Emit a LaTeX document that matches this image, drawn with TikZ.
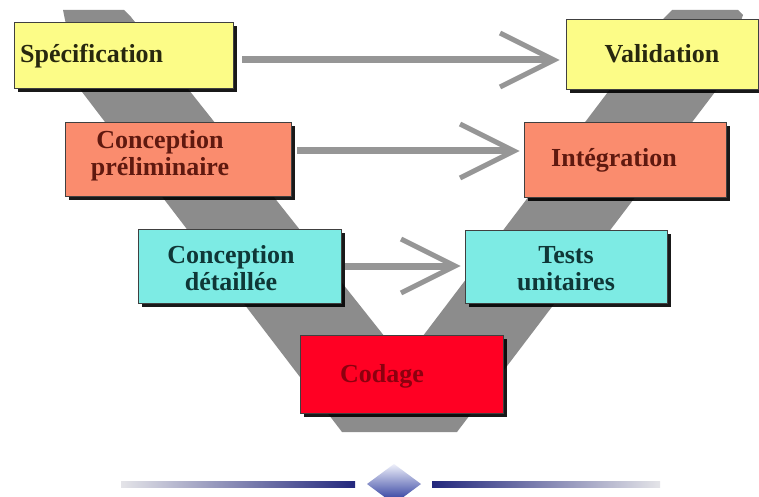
\documentclass[tikz,border=0pt]{standalone}
\usepackage{fontspec}
\setmainfont{Liberation Serif}
\usetikzlibrary{arrows.meta,shadows}
\definecolor{vgray}{RGB}{140,140,140}
\definecolor{agray}{RGB}{150,150,150}
\definecolor{cyell}{RGB}{252,252,135}
\definecolor{csalm}{RGB}{250,140,110}
\definecolor{ccyan}{RGB}{125,235,228}
\definecolor{cred}{RGB}{255,0,35}
\definecolor{tyell}{RGB}{40,40,15}
\definecolor{tsalm}{RGB}{95,25,15}
\definecolor{tcyan}{RGB}{15,55,55}
\definecolor{tred}{RGB}{140,0,15}
\definecolor{navy}{RGB}{35,40,125}
\definecolor{lgray}{RGB}{228,228,232}
\definecolor{dlight}{RGB}{238,240,250}
\definecolor{dmid}{RGB}{95,110,190}
\definecolor{dblue}{RGB}{30,45,150}
\begin{document}
\begin{tikzpicture}[x=1pt,y=-1pt,
  box/.style={draw=black!75, line width=0.8pt, rectangle, inner sep=0pt,
    drop shadow={shadow xshift=4pt,shadow yshift=-4pt,fill=black,opacity=0.9}},
  lbl/.style={font=\fontsize{26}{27}\selectfont\bfseries, inner sep=0pt, align=center},
  arr/.style={draw=agray, line width=7pt,
    -{Straight Barb[length=54pt,width=54pt,line width=5pt]}}]
\useasboundingbox (0,0) rectangle (759,497);
\fill[white] (0,0) rectangle (759,497);
% V band
\fill[vgray] (63,10) -- (124,10) -- (131,17) -- (404,361) -- (664,18) -- (672,10)
  -- (738,10) -- (743,15) -- (718,88) -- (457,432) -- (342,432) -- (79,88) -- cycle;
% boxes
\node[box, fill=cyell, minimum width=219pt, minimum height=66pt] (spec) at (123.5,55) {};
\node[box, fill=cyell, minimum width=192pt, minimum height=70pt] (valid) at (662,54) {};
\node[box, fill=csalm, minimum width=226pt, minimum height=74pt] (prelim) at (178,159) {};
\node[box, fill=csalm, minimum width=202pt, minimum height=75pt] (integ) at (625,159.5) {};
\node[box, fill=ccyan, minimum width=203pt, minimum height=74pt] (detail) at (239.5,266) {};
\node[box, fill=ccyan, minimum width=202pt, minimum height=73pt] (tests) at (566,266.5) {};
\node[box, fill=cred, minimum width=203pt, minimum height=78pt] (codage) at (401.5,374) {};
% labels
\node[lbl, text=tyell, anchor=base west] (spec-t) at (20,63) {Spécification};
\node[lbl, text=tyell, anchor=base] (valid-t) at (662,63) {Validation};
\node[lbl, text=tsalm] (prelim-t) at (160,155.5) {Conception\\préliminaire};
\node[lbl, text=tsalm, anchor=base] (integ-t) at (614,167) {Intégration};
\node[lbl, text=tcyan] (detail-t) at (231,268) {Conception\\détaillée};
\node[lbl, text=tcyan] (tests-t) at (566,268.5) {Tests\\unitaires};
\node[lbl, text=tred, anchor=base] (codage-t) at (382,382) {Codage};
% arrows
\coordinate (a1s) at ([xshift=9pt,yshift=-5pt]spec.east);
\draw[arr, shorten >=6pt] (a1s) -- (a1s -| valid.west);
\coordinate (a2s) at ([xshift=6pt,yshift=8pt]prelim.east);
\draw[arr, shorten >=4pt] (a2s) -- (a2s -| integ.west);
\coordinate (a3s) at ([xshift=4pt]detail.east);
\draw[arr, shorten >=4pt] (a3s) -- (a3s -| tests.west);
% bottom ornament
\shade[left color=lgray, right color=navy] (121,481) rectangle (355,487);
\shade[left color=navy, right color=lgray] (432,481) rectangle (660,487);
\shade[top color=dlight, middle color=dmid, bottom color=dblue] (394,464) -- (421,484) -- (394,504) -- (367,484) -- cycle;
\end{tikzpicture}
\end{document}
